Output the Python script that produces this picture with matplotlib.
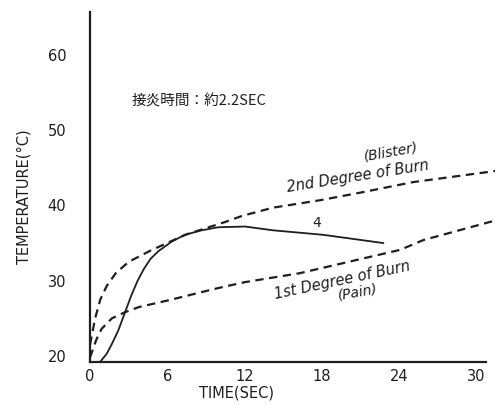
import matplotlib
matplotlib.use("Agg")
import matplotlib.pyplot as plt

plt.rcParams['font.family'] = ['DejaVu Sans', 'Noto Sans CJK JP']
plt.rcParams['lines.scale_dashes'] = False

# Curve "4": skin temperature, contact time about 2.2 s
time_4 = [0.78, 1.3, 1.7, 2.2, 2.7, 3.2, 3.7, 4.2, 4.7, 5.3, 6.35, 7.38, 8.68, 9.97, 12.04, 14.2, 18.1, 22.8]
temp_4 = [19.2, 20.3, 21.6, 23.4, 25.7, 28.0, 30.0, 31.6, 32.9, 33.9, 35.2, 36.1, 36.7, 37.1, 37.2, 36.7, 36.1, 35.0]

# 2nd degree of burn (blister) threshold
time_2nd = [0.0, 0.4, 0.8, 1.3, 2.0, 3.0, 4.7, 7.4, 10.5, 11.8, 14.2, 17.9, 21.0, 25.1, 31.6]
temp_2nd = [21.5, 25.0, 27.5, 29.3, 31.0, 32.5, 34.0, 36.1, 37.8, 38.6, 39.7, 40.7, 41.7, 43.1, 44.6]

# 1st degree of burn (pain) threshold
time_1st = [0.0, 0.5, 0.9, 1.7, 2.7, 3.8, 6.1, 9.9, 12.0, 16.3, 24.1, 25.9, 31.7]
temp_1st = [19.8, 22.2, 23.6, 25.0, 25.8, 26.5, 27.4, 29.0, 29.8, 31.0, 34.1, 35.4, 38.1]

x_ticks = [0, 6, 12, 18, 24, 30]
x_ticklabels = ["0", "6", "12", "18", "24", "30"]
y_ticks = [20, 30, 40, 50, 60]
y_ticklabels = ["20", "30", "40", "50", "60"]

ink = '#1e1e1e'

fig = plt.figure(figsize=(5.02, 4.05), dpi=100)
ax = fig.add_axes([90 / 502, 1 - 362 / 405, 405.4 / 502, 350 / 405])

ax.plot(time_4, temp_4, color=ink, lw=1.3, solid_capstyle='round')
ax.plot(time_2nd, temp_2nd, color=ink, lw=1.6, dashes=(6, 4))
ax.plot(time_1st, temp_1st, color=ink, lw=1.6, dashes=(6, 4))

ax.set_xlim(0, 31.5)
ax.set_ylim(19.2, 65.7)
for s in ['top', 'right']:
    ax.spines[s].set_visible(False)
ax.spines['bottom'].set_bounds(0, 30.8)
ax.spines['left'].set_linewidth(1.6)
ax.spines['bottom'].set_linewidth(1.6)
ax.spines['left'].set_color(ink)
ax.spines['bottom'].set_color(ink)

ax.set_xticks(x_ticks)
ax.set_xticklabels(x_ticklabels)
ax.set_yticks(y_ticks)
ax.set_yticklabels(y_ticklabels)
ax.tick_params(axis='both', length=0, labelsize=10.5, colors=ink)
ax.tick_params(axis='y', pad=17)
ax.tick_params(axis='x', pad=5)

fig.text(237 / 502, 1 - 393 / 405, "TIME(SEC)", ha='center', va='center',
         fontsize=10.5, color=ink)
fig.text(24 / 502, 1 - 197 / 405, "TEMPERATURE(°C)", ha='center', va='center',
         rotation=90, fontsize=10.5, color=ink)

ax.text(3.26, 53.75, "接炎時間：約2.2SEC", ha='left', va='center', fontsize=10.5,
        color=ink, family=['Noto Sans CJK JP', 'DejaVu Sans'])

ax.text(23.4, 47.1, "(Blister)", ha='center', va='center', rotation=10,
        fontsize=10, style='italic', color=ink)
ax.text(20.8, 43.9, "2nd Degree of Burn", ha='center', va='center', rotation=9,
        fontsize=10.5, style='italic', color=ink)
ax.text(17.6, 37.7, "4", ha='center', va='center', fontsize=10, color=ink)
ax.text(19.6, 30.1, "1st Degree of Burn", ha='center', va='center', rotation=12,
        fontsize=10.5, style='italic', color=ink)
ax.text(20.8, 28.5, "(Pain)", ha='center', va='center', rotation=10,
        fontsize=10, style='italic', color=ink)

fig.savefig("out.png", dpi=100)
